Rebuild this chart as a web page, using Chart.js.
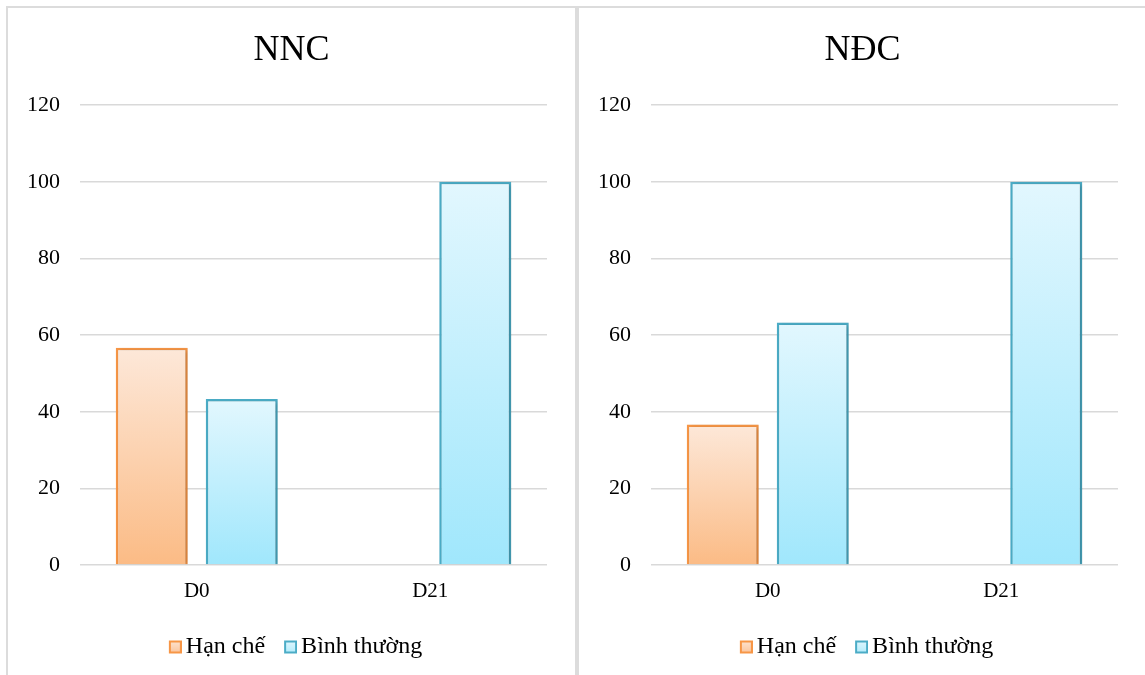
<!DOCTYPE html>
<html>
<head>
<meta charset="utf-8">
<script src="https://cdn.jsdelivr.net/npm/chart.js@4.4.0/dist/chart.umd.min.js"></script>
<style>
  html, body { margin: 0; padding: 0; background: #ffffff; overflow: hidden; }
  .panel { position: absolute; top: 6px; height: 720px; border: 2px solid #dcdcdc; box-sizing: border-box; }
  #panelLeft { left: 6px; width: 571px; }
  #panelRight { left: 577px; width: 600px; }
  canvas.chart { position: absolute; top: 7px; }
  #nnc { left: 7px; }
  #ndc { left: 578px; }
</style>
</head>
<body>
<div class="panel" id="panelLeft"></div>
<div class="panel" id="panelRight"></div>
<canvas class="chart" id="nnc" width="569" height="668"></canvas>
<canvas class="chart" id="ndc" width="569" height="668"></canvas>
<script>
// Categories, series and tick values
const categories = ['D0', 'D21'];
const seriesNames = ['Hạn chế', 'Bình thường'];
const yTicks = [0, 20, 40, 60, 80, 100, 120];

// NNC group (%)
const nncLimited = [56.7, 0];
const nncNormal = [43.3, 100];

// NĐC group (%)
const ndcLimited = [36.7, 0];
const ndcNormal = [63.3, 100];

const SERIF = "'Liberation Serif', 'Times New Roman', serif";

// Vertical gradient for each bar, light at the top and stronger at the base
function barFill(topColor, bottomColor) {
  return (ctx) => {
    const chart = ctx.chart;
    const ys = chart.scales && chart.scales.y;
    if (ctx.type !== 'data' || !ys || !chart.chartArea) return bottomColor;
    const y0 = ys.getPixelForValue(0);
    const y1 = ys.getPixelForValue(ctx.raw);
    if (!isFinite(y1) || Math.abs(y0 - y1) < 1) return bottomColor;
    const g = chart.ctx.createLinearGradient(0, y1, 0, y0);
    g.addColorStop(0, topColor);
    g.addColorStop(1, bottomColor);
    return g;
  };
}

// Legend swatch: small bordered square placed close to its label
function legendSwatch(topColor, bottomColor, stroke) {
  const c = document.createElement('canvas');
  c.width = 29;
  c.height = 15;
  const g = c.getContext('2d');
  const grad = g.createLinearGradient(0, 1, 0, 14);
  grad.addColorStop(0, topColor);
  grad.addColorStop(1, bottomColor);
  g.fillStyle = grad;
  g.fillRect(17, 2, 11, 11);
  g.strokeStyle = stroke;
  g.lineWidth = 2;
  g.strokeRect(17, 2, 11, 11);
  return c;
}

// Soft drop shadow behind the bars
const barShadow = {
  id: 'barShadow',
  beforeDatasetsDraw(chart) {
    const c = chart.ctx;
    c.save();
    c.shadowColor = 'rgba(0,0,0,0.22)';
    c.shadowBlur = 4;
    c.shadowOffsetX = 2;
    c.shadowOffsetY = 1;
  },
  afterDatasetsDraw(chart) {
    chart.ctx.restore();
  }
};

function makeChart(canvasId, title, limited, normal) {
  return new Chart(document.getElementById(canvasId), {
    type: 'bar',
    data: {
      labels: categories,
      datasets: [
        {
          label: seriesNames[0],
          data: limited,
          backgroundColor: barFill('#fde8d9', '#fbbb85'),
          borderColor: '#f79646',
          borderWidth: 2.5,
          swatch: legendSwatch('#fde4d2', '#fbc49a', '#f79646')
        },
        {
          label: seriesNames[1],
          data: normal,
          backgroundColor: barFill('#e2f7fe', '#a0e7fc'),
          borderColor: '#4bacc6',
          borderWidth: 2.5,
          swatch: legendSwatch('#e2f7fe', '#b0ecfc', '#4bacc6')
        }
      ]
    },
    options: {
      responsive: false,
      animation: false,
      devicePixelRatio: 1,
      categoryPercentage: 0.771,
      barPercentage: 0.8,
      layout: { padding: { left: 10, right: 10, top: 0, bottom: 6 } },
      plugins: {
        title: {
          display: true,
          text: title,
          color: '#000000',
          font: { family: SERIF, size: 36, weight: 'normal' },
          padding: { top: 22, bottom: 33 }
        },
        legend: {
          display: true,
          position: 'bottom',
          labels: {
            color: '#000000',
            font: { family: SERIF, size: 24 },
            usePointStyle: true,
            boxWidth: 13,
            boxHeight: 13,
            padding: 11,
            generateLabels: (chart) => chart.data.datasets.map((ds, i) => ({
              text: ds.label,
              pointStyle: ds.swatch,
              fillStyle: ds.borderColor,
              strokeStyle: ds.borderColor,
              lineWidth: 0,
              hidden: false,
              datasetIndex: i
            }))
          }
        },
        tooltip: { enabled: false }
      },
      scales: {
        x: {
          grid: { display: false, drawTicks: false },
          border: { display: false },
          ticks: { color: '#000000', font: { family: SERIF, size: 21 }, padding: 14 },
          afterFit: (scale) => { scale.height = 59; }
        },
        y: {
          min: 0,
          max: 120,
          afterBuildTicks: (scale) => { scale.ticks = yTicks.map(v => ({ value: v })); },
          grid: { color: '#d9d9d9', lineWidth: 1.4, drawTicks: false },
          border: { display: false },
          ticks: { color: '#000000', font: { family: SERIF, size: 22 }, padding: 20 },
          afterFit: (scale) => { scale.width = 63; }
        },
        // empty right-hand gutter so the plot ends short of the panel edge
        gutter: {
          type: 'linear',
          position: 'right',
          display: true,
          grid: { display: false, drawTicks: false },
          border: { display: false },
          ticks: { display: false },
          afterFit: (scale) => { scale.width = 19; }
        }
      }
    },
    plugins: [barShadow]
  });
}

makeChart('nnc', 'NNC', nncLimited, nncNormal);
makeChart('ndc', 'NĐC', ndcLimited, ndcNormal);
</script>
</body>
</html>
